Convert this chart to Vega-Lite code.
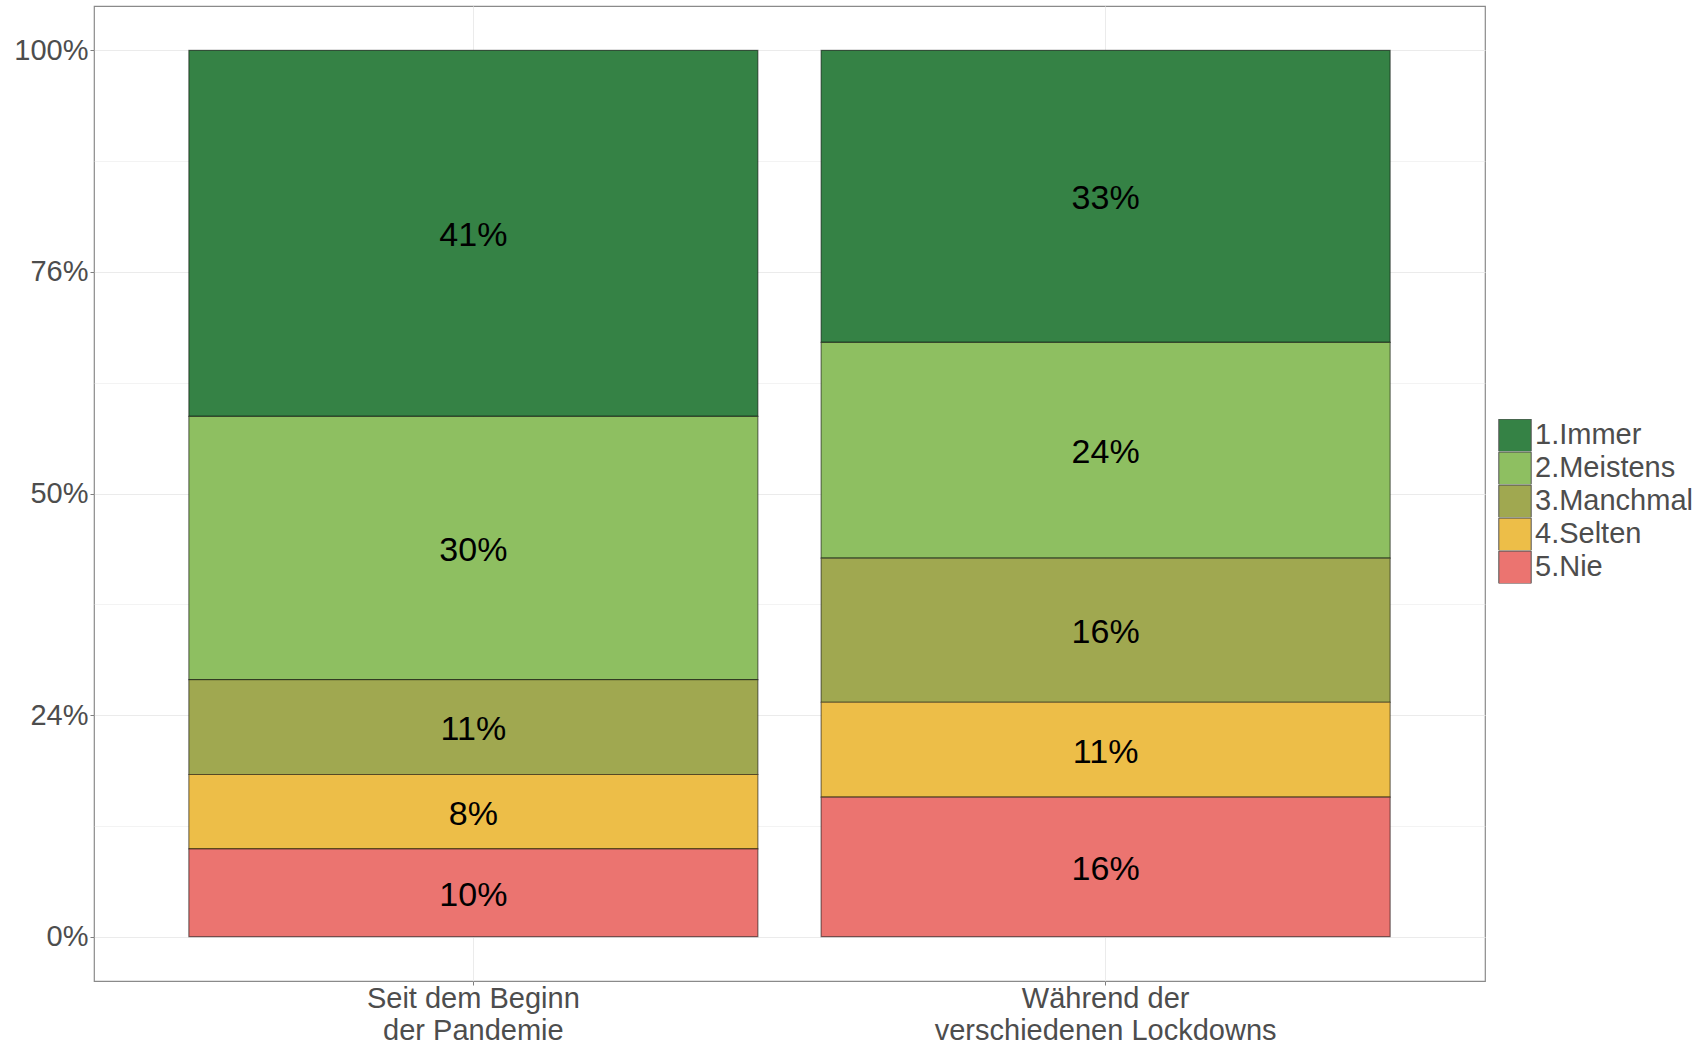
{
  "$schema": "https://vega.github.io/schema/vega-lite/v6.json",
  "autosize": {"type": "none"},
  "width": 1391,
  "height": 975,
  "padding": {"left": 94, "top": 6, "right": 219, "bottom": 63},
  "background": "white",
  "config": {
    "view": {"stroke": "#8a8a8a", "strokeWidth": 1.2},
    "font": "Liberation Sans"
  },
  "data": {
    "values": [
      {"zeit": "Seit dem Beginn der Pandemie", "kat": "1.Immer", "anteil": 0.413},
      {"zeit": "Seit dem Beginn der Pandemie", "kat": "2.Meistens", "anteil": 0.297},
      {"zeit": "Seit dem Beginn der Pandemie", "kat": "3.Manchmal", "anteil": 0.107},
      {"zeit": "Seit dem Beginn der Pandemie", "kat": "4.Selten", "anteil": 0.084},
      {"zeit": "Seit dem Beginn der Pandemie", "kat": "5.Nie", "anteil": 0.099},
      {"zeit": "Während der verschiedenen Lockdowns", "kat": "1.Immer", "anteil": 0.3295},
      {"zeit": "Während der verschiedenen Lockdowns", "kat": "2.Meistens", "anteil": 0.2435},
      {"zeit": "Während der verschiedenen Lockdowns", "kat": "3.Manchmal", "anteil": 0.1625},
      {"zeit": "Während der verschiedenen Lockdowns", "kat": "4.Selten", "anteil": 0.1071},
      {"zeit": "Während der verschiedenen Lockdowns", "kat": "5.Nie", "anteil": 0.1574}
    ]
  },
  "transform": [
    {"stack": "anteil", "groupby": ["zeit"], "sort": [{"field": "kat", "order": "descending"}], "as": ["y0", "y1"]},
    {"calculate": "(datum.y0 + datum.y1) / 2", "as": "ymid"}
  ],
  "encoding": {
    "x": {
      "field": "zeit",
      "type": "nominal",
      "sort": ["Seit dem Beginn der Pandemie", "Während der verschiedenen Lockdowns"],
      "scale": {"paddingInner": 0.1, "paddingOuter": 0.15},
      "axis": {
        "title": null,
        "labelAngle": 0,
        "labelAlign": "center",
        "labelBaseline": "top",
        "labelFontSize": 29,
        "labelColor": "#4d4d4d",
        "labelLineHeight": 32,
        "labelPadding": -1,
        "labelLimit": 0,
        "labelExpr": "datum.value == 'Seit dem Beginn der Pandemie' ? ['Seit dem Beginn', 'der Pandemie'] : ['Während der', 'verschiedenen Lockdowns']",
        "bandPosition": 0.5,
        "grid": true,
        "gridColor": "#ebebeb",
        "gridWidth": 1,
        "domain": false,
        "ticks": true,
        "tickColor": "#7f7f7f",
        "tickSize": 4,
        "tickWidth": 1
      }
    }
  },
  "layer": [
    {
      "mark": {"type": "bar", "stroke": "black", "strokeOpacity": 0.5, "strokeWidth": 1.2},
      "encoding": {
        "y": {
          "field": "y1",
          "type": "quantitative",
          "scale": {"domain": [-0.05, 1.05], "nice": false, "zero": false},
          "axis": {
            "title": null,
            "values": [0, 0.125, 0.25, 0.375, 0.5, 0.625, 0.75, 0.875, 1],
            "labelExpr": "datum.value == 0 ? '0%' : datum.value == 0.25 ? '24%' : datum.value == 0.5 ? '50%' : datum.value == 0.75 ? '76%' : datum.value == 1 ? '100%' : ''",
            "labelFontSize": 29,
            "labelColor": "#4d4d4d",
            "labelPadding": 2,
            "grid": true,
            "gridColor": "#ebebeb",
            "gridWidth": {"condition": {"test": "datum.value * 4 == floor(datum.value * 4)", "value": 1.2}, "value": 0.6},
            "domain": false,
            "tickColor": "#7f7f7f",
            "tickSize": 4,
            "tickWidth": 1,
            "tickOpacity": {"condition": {"test": "datum.value * 4 == floor(datum.value * 4)", "value": 1}, "value": 0}
          }
        },
        "y2": {"field": "y0"},
        "color": {
          "field": "kat",
          "type": "nominal",
          "scale": {
            "domain": ["1.Immer", "2.Meistens", "3.Manchmal", "4.Selten", "5.Nie"],
            "range": ["#358245", "#8ebf61", "#a0a850", "#edbe48", "#eb7470"]
          },
          "legend": {
            "title": null,
            "orient": "none",
            "legendX": 1404,
            "legendY": 413,
            "symbolType": "square",
            "symbolSize": 1050,
            "symbolStrokeColor": "#555555",
            "symbolStrokeWidth": 1,
            "symbolOpacity": 1,
            "labelFontSize": 29,
            "labelColor": "#4d4d4d",
            "labelOffset": 3,
            "clipHeight": 32.6,
            "rowPadding": 0,
            "padding": 0
          }
        }
      }
    },
    {
      "mark": {"type": "text", "fontSize": 34, "color": "black", "baseline": "middle", "align": "center", "dy": 3},
      "encoding": {
        "y": {"field": "ymid", "type": "quantitative"},
        "text": {"field": "anteil", "type": "quantitative", "format": ".0%"}
      }
    }
  ]
}
